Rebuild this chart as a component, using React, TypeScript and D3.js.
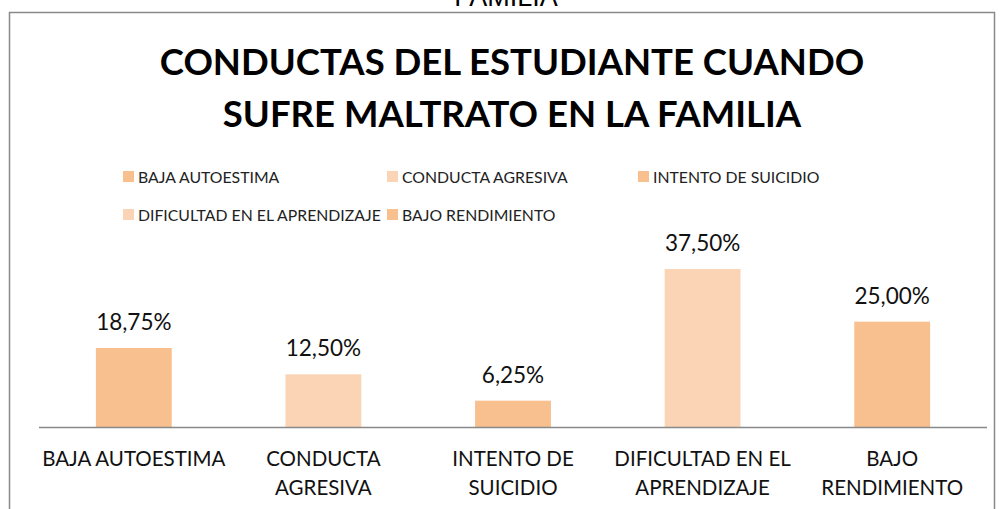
import { useRef, useEffect } from 'react';
import * as d3 from 'd3';

const WIDTH = 1001;
const HEIGHT = 509;
const AXIS = { left: 39, right: 987, y: 427 };

const categories = [
	['BAJA AUTOESTIMA'],
	['CONDUCTA', 'AGRESIVA'],
	['INTENTO DE', 'SUICIDIO'],
	['DIFICULTAD EN EL', 'APRENDIZAJE'],
	['BAJO', 'RENDIMIENTO'],
];
const legendNames = [
	'BAJA AUTOESTIMA',
	'CONDUCTA AGRESIVA',
	'INTENTO DE SUICIDIO',
	'DIFICULTAD EN EL APRENDIZAJE',
	'BAJO RENDIMIENTO',
];
const values = [18.75, 12.5, 6.25, 37.5, 25.0];
const valueLabels = ['18,75%', '12,50%', '6,25%', '37,50%', '25,00%'];
const colors = ['#F8C08F', '#FAD4B4', '#F8C08F', '#FAD4B4', '#F8C08F'];
const titleLines = ['CONDUCTAS DEL ESTUDIANTE CUANDO', 'SUFRE MALTRATO EN LA FAMILIA'];

const FONT = 'Lato, "Open Sans", sans-serif';

const App = () => {
	const ref = useRef<SVGSVGElement>(null);

	useEffect(() => {
		const svg = d3.select(ref.current);
		svg.selectAll('*').remove();

		svg.append('rect').attr('width', WIDTH).attr('height', HEIGHT).attr('fill', '#fff');

		// cut-off text from the page above the chart
		svg.append('text')
			.attr('x', 506).attr('y', 6)
			.attr('text-anchor', 'middle')
			.attr('font-family', '"Liberation Sans", Arial, sans-serif')
			.attr('font-size', 27)
			.text('FAMILIA');

		// chart frame
		svg.append('rect')
			.attr('x', 9.5).attr('y', 12.5)
			.attr('width', 985).attr('height', 520)
			.attr('fill', 'none')
			.attr('stroke', '#898989')
			.attr('stroke-width', 1.5);

		// title
		svg.append('text')
			.attr('text-anchor', 'middle')
			.attr('font-family', FONT)
			.attr('font-weight', 'bold')
			.attr('font-size', 36.5)
			.selectAll('tspan')
			.data(titleLines)
			.join('tspan')
			.attr('x', 512)
			.attr('y', (d, i) => 75 + i * 52)
			.text(d => d);

		// legend
		const legendCols = [123, 387, 638];
		const legend = svg.append('g').attr('font-family', FONT).attr('font-size', 15.8);
		legendNames.forEach((name, i) => {
			const col = i < 3 ? i : i - 3;
			const row = i < 3 ? 0 : 1;
			const x = legendCols[col];
			const y = 171 + row * 38;
			legend.append('rect')
				.attr('x', x).attr('y', y)
				.attr('width', 11).attr('height', 11)
				.attr('fill', colors[i]);
			legend.append('text')
				.attr('x', x + 15).attr('y', y + 11.5)
				.attr('fill', '#222')
				.text(name);
		});

		const xScale = d3.scaleBand<number>()
			.domain(d3.range(values.length))
			.range([AXIS.left, AXIS.right])
			.paddingInner(0.6)
			.paddingOuter(0.3);

		const yScale = d3.scaleLinear()
			.domain([0, 40])
			.range([AXIS.y, AXIS.y - 168.5]);

		svg.append('g')
			.selectAll('rect')
			.data(values)
			.join('rect')
			.attr('x', (d, i) => xScale(i)!)
			.attr('y', d => yScale(d))
			.attr('width', xScale.bandwidth())
			.attr('height', d => yScale(0) - yScale(d))
			.attr('fill', (d, i) => colors[i]);

		svg.append('line')
			.attr('x1', AXIS.left).attr('x2', AXIS.right)
			.attr('y1', AXIS.y + 0.5).attr('y2', AXIS.y + 0.5)
			.attr('stroke', '#898989')
			.attr('stroke-width', 1.5);

		// value labels
		svg.append('g')
			.selectAll('text')
			.data(values)
			.join('text')
			.attr('x', (d, i) => xScale(i)! + xScale.bandwidth() / 2)
			.attr('y', d => yScale(d) - 18)
			.attr('text-anchor', 'middle')
			.attr('font-family', FONT)
			.attr('font-size', 22.5)
			.attr('fill', '#111')
			.text((d, i) => valueLabels[i]);

		// category labels
		const catG = svg.append('g')
			.attr('font-family', FONT)
			.attr('font-size', 20.5)
			.attr('fill', '#111')
			.attr('text-anchor', 'middle');
		categories.forEach((lines, i) => {
			const cx = xScale(i)! + xScale.bandwidth() / 2;
			catG.append('text')
				.selectAll('tspan')
				.data(lines)
				.join('tspan')
				.attr('x', cx)
				.attr('y', (d, j) => 466 + j * 29)
				.text(d => d);
		});
	}, []);

	return (
		<svg
			ref={ref}
			width={WIDTH}
			height={HEIGHT}
			style={{ position: 'absolute', left: 0, top: 0 }}
		/>
	);
};

export default App;
